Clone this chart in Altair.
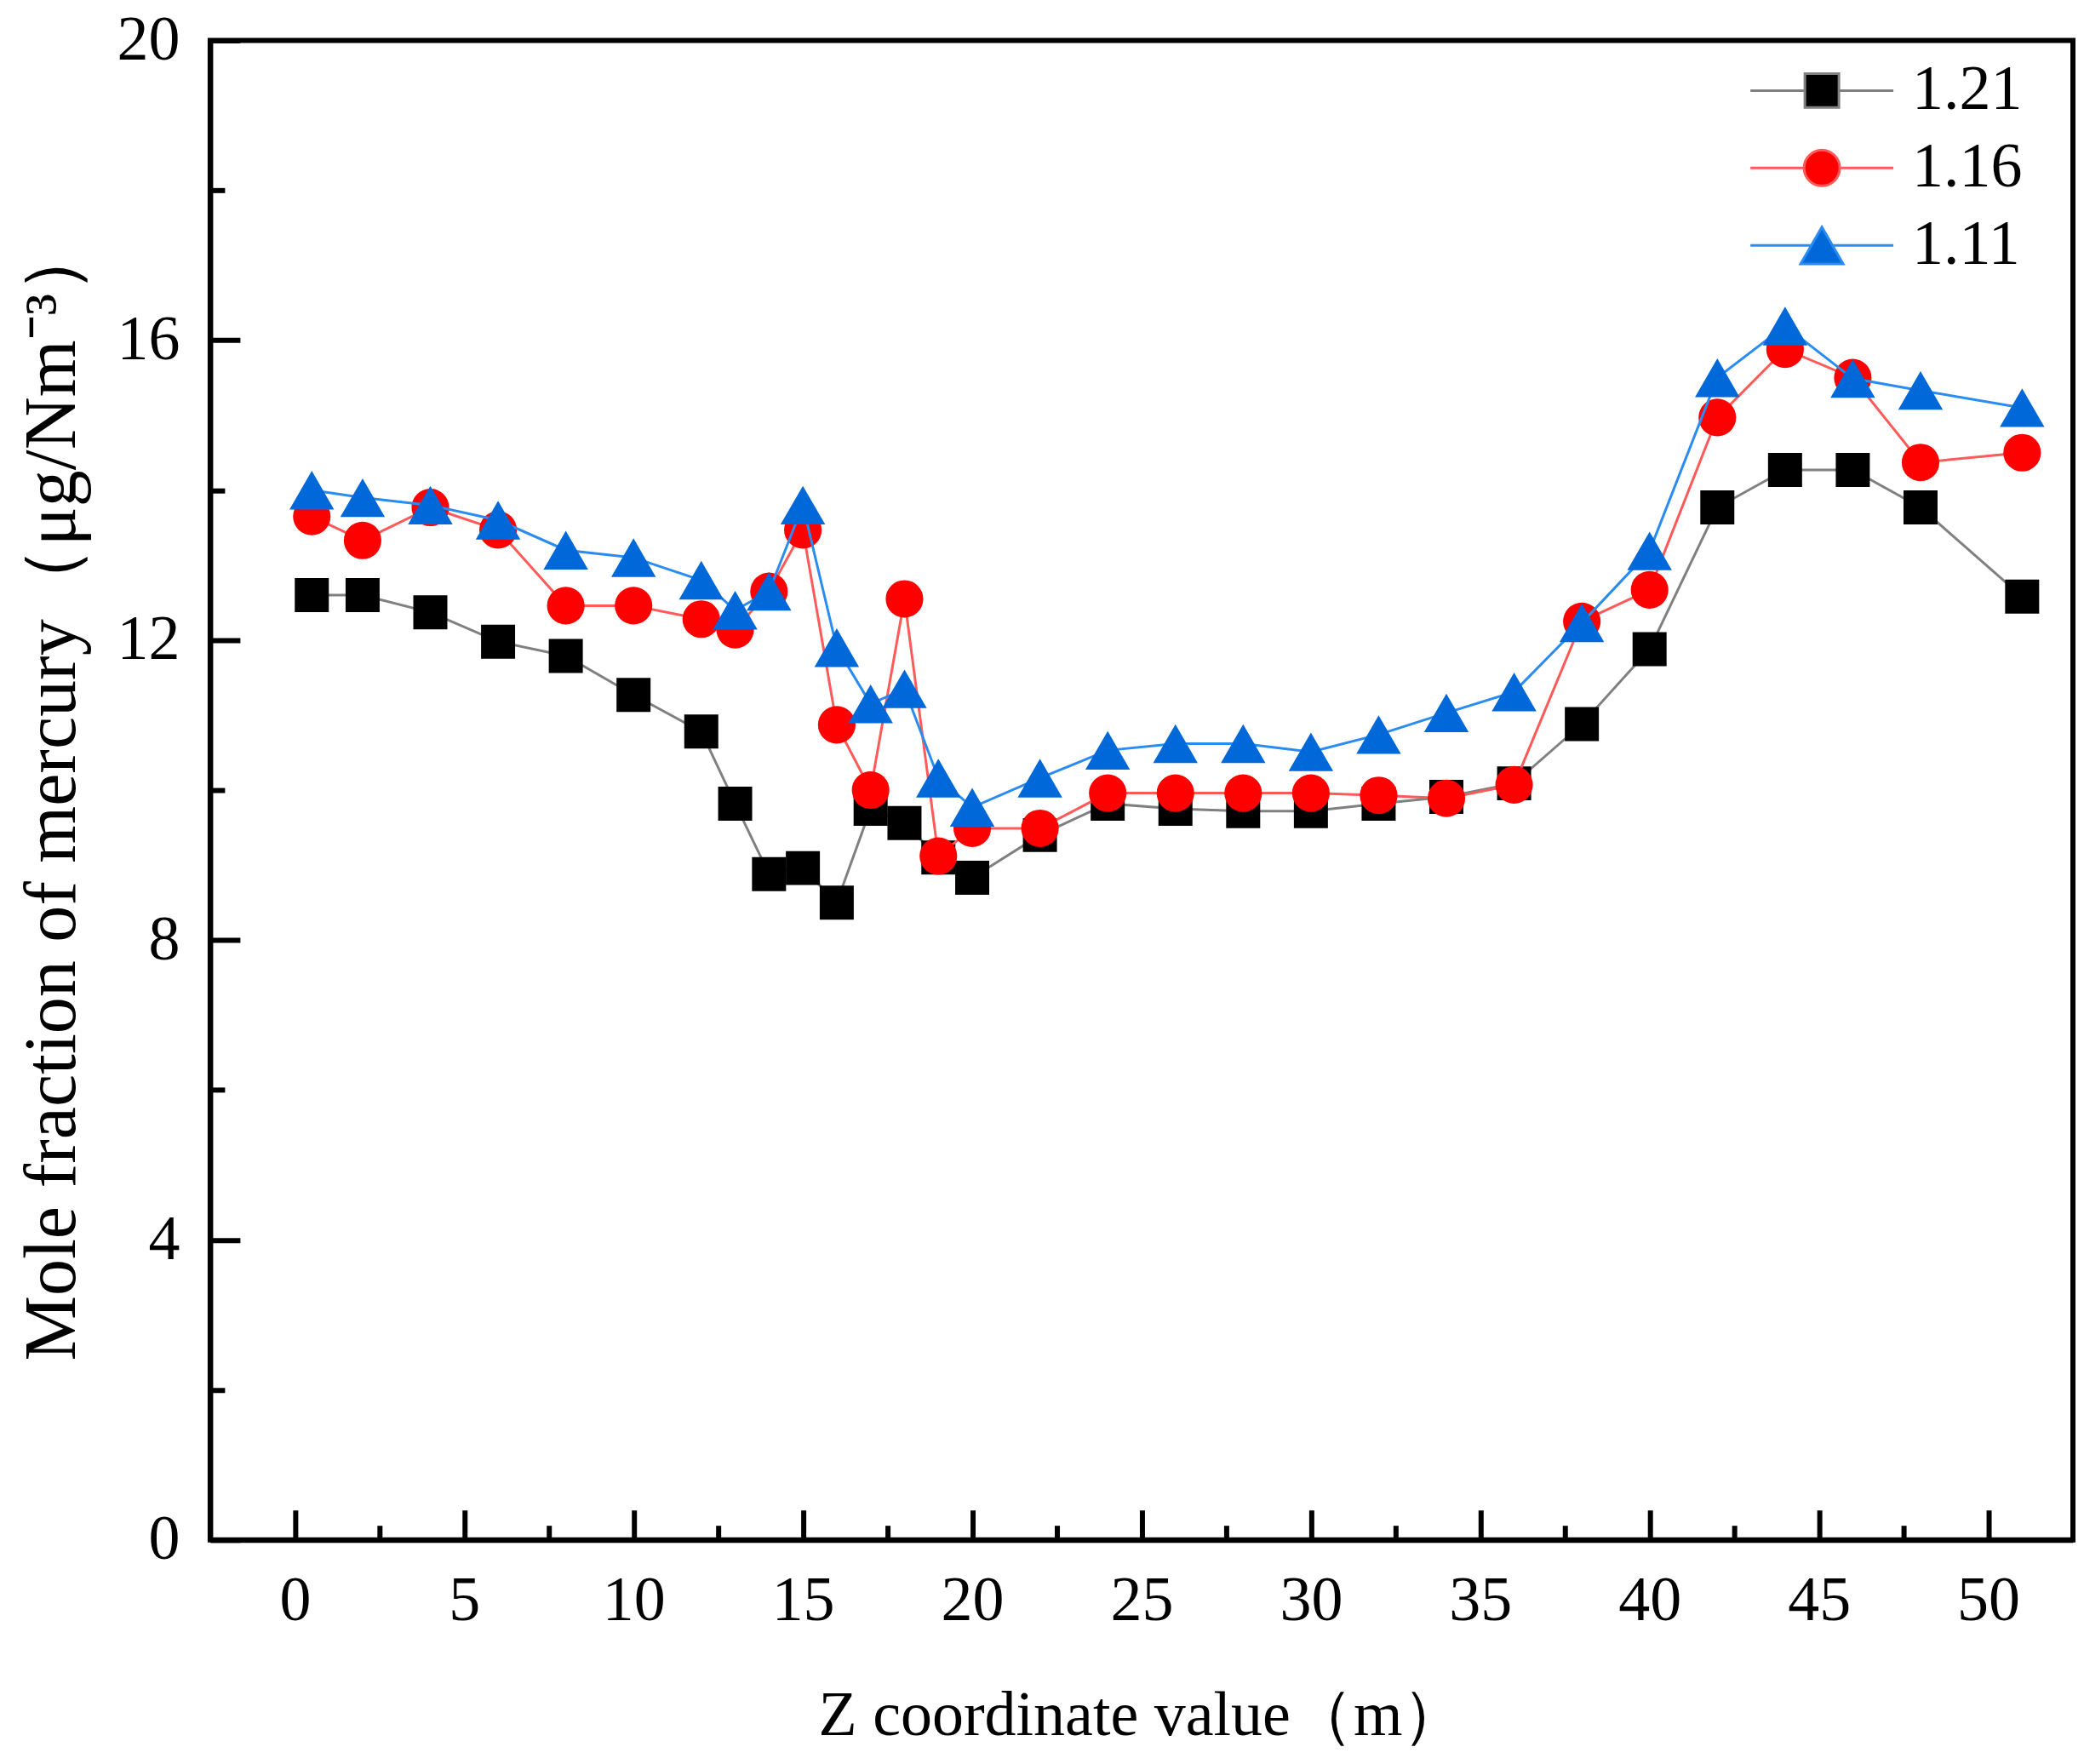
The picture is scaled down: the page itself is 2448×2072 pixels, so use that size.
import altair as alt
import pandas as pd

# ---- data ----
z = [0.5, 2, 4, 6, 8, 10, 12, 13, 14, 15, 16, 17, 18, 19, 20, 22, 24, 26, 28, 30,
     32, 34, 36, 38, 40, 42, 44, 46, 48, 51]
s121 = [12.6, 12.6, 12.37, 11.98, 11.79, 11.27, 10.78, 9.82, 8.88, 8.96, 8.5, 9.75,
        9.56, 9.1, 8.83, 9.4, 9.82, 9.75, 9.72, 9.72, 9.82, 9.91, 10.09, 10.88,
        11.88, 13.77, 14.27, 14.27, 13.77, 12.58]
s116 = [13.65, 13.33, 13.77, 13.47, 12.46, 12.46, 12.28, 12.14, 12.65, 13.47, 10.87,
        10.0, 12.55, 9.12, 9.49, 9.49, 9.96, 9.96, 9.96, 9.96, 9.93, 9.89, 10.07,
        12.25, 12.67, 14.97, 15.88, 15.5, 14.37, 14.5]
s111 = [14.0, 13.9, 13.8, 13.6, 13.2, 13.1, 12.8, 12.4, 12.65, 13.8, 11.9, 11.15,
        11.35, 10.16, 9.77, 10.16, 10.53, 10.62, 10.62, 10.51, 10.74, 11.03, 11.31,
        12.23, 13.19, 15.5, 16.19, 15.49, 15.33, 15.1]

series_names = ["1.21", "1.16", "1.11"]
marker_colors = ["#000000", "#ff0000", "#0068d9"]
line_colors = ["#808080", "#ff5a5a", "#2a8cf0"]
shapes = ["square", "circle", "triangle-up"]
marker_sizes = [1600, 1950, 2750]

x_major = [0, 5, 10, 15, 20, 25, 30, 35, 40, 45, 50]
x_minor = [2.5, 7.5, 12.5, 17.5, 22.5, 27.5, 32.5, 37.5, 42.5, 47.5]
y_major = [0, 4, 8, 12, 16, 20]
y_minor = [2, 6, 10, 14, 18]

FONT = "Liberation Serif"
W, H = 2189, 1762

xs = alt.Scale(domain=[-2.5, 52.5], nice=False, zero=False)
ys = alt.Scale(domain=[0, 20], nice=False, zero=False)

def frame(vals, name):
    return pd.DataFrame({"z": z, "v": vals, "series": name})

dfs = [frame(s121, "1.21"), frame(s116, "1.16"), frame(s111, "1.11")]

# axis variants: labels+domain, major inward ticks, minor inward ticks
x_axes = [
    alt.Axis(values=x_major, ticks=False, domain=True, domainColor="black",
             domainWidth=6, labelFont=FONT, labelFontSize=74, labelColor="black",
             labelPadding=36, grid=False, title="Z coordinate value（m）",
             titleFont=FONT, titleFontSize=74, titleFontWeight="normal",
             titleColor="black", titlePadding=62, orient="bottom"),
    alt.Axis(values=x_major, ticks=True, tickSize=35, tickWidth=6, tickColor="black",
             labels=False, domain=False, grid=False, title=None, orient="bottom",
             offset=-35),
    alt.Axis(values=x_minor, ticks=True, tickSize=17, tickWidth=6, tickColor="black",
             labels=False, domain=False, grid=False, title=None, orient="bottom",
             offset=-17),
]
y_axes = [
    alt.Axis(values=y_major, ticks=False, domain=True, domainColor="black",
             domainWidth=6, labelFont=FONT, labelFontSize=74, labelColor="black",
             labelPadding=36, grid=False,
             title="Mole fraction of mercury（μg/Nm⁻³）",
             titleFont=FONT, titleFontSize=86, titleFontWeight="normal",
             titleColor="black", titlePadding=31, orient="left"),
    alt.Axis(values=y_major, ticks=True, tickSize=35, tickWidth=6, tickColor="black",
             labels=False, domain=False, grid=False, title=None, orient="left",
             offset=-35),
    alt.Axis(values=y_minor, ticks=True, tickSize=17, tickWidth=6, tickColor="black",
             labels=False, domain=False, grid=False, title=None, orient="left",
             offset=-17),
]

layers = []
for i in range(3):
    layer = alt.Chart(dfs[i]).mark_line(
        color=line_colors[i], strokeWidth=3,
        point=alt.OverlayMarkDef(shape=shapes[i], size=marker_sizes[i], filled=True,
                                 color=marker_colors[i], opacity=1, strokeWidth=0),
    ).encode(
        x=alt.X("z:Q", scale=xs, axis=x_axes[i]),
        y=alt.Y("v:Q", scale=ys, axis=y_axes[i]),
    )
    layers.append(layer)

# legend (symbols draw a line with the marker on it)
legend_paths = [
    "M-4.2,0H-1M1,0H4.2M-1,-1H1V1H-1Z",
    "M-4.2,0H-1.05M1.05,0H4.2M-1.05,0A1.05,1.05,0,1,1,1.05,0A1.05,1.05,0,1,1,-1.05,0Z",
    "M-4.2,0H-0.6M0.6,0H4.2M0,-1.08L1.25,1.08L-1.25,1.08Z",
]
leg = alt.Legend(title=None, orient="none", legendX=1857, legendY=22,
                 labelFont=FONT, labelFontSize=74, labelColor="black",
                 labelOffset=69, symbolSize=1600, symbolStrokeWidth=3,
                 symbolOpacity=1, rowPadding=17, padding=0, labelBaseline="middle")
leg_df = pd.DataFrame({"series": series_names})
legend_layer = alt.Chart(leg_df).mark_point(filled=True, size=1600, opacity=0).encode(
    shape=alt.Shape("series:N", scale=alt.Scale(domain=series_names, range=legend_paths),
                    legend=leg, sort=series_names),
    fill=alt.Fill("series:N", scale=alt.Scale(domain=series_names, range=marker_colors),
                  legend=leg, sort=series_names),
    stroke=alt.Stroke("series:N", scale=alt.Scale(domain=series_names, range=line_colors),
                      legend=leg, sort=series_names),
)

chart = alt.layer(*layers, legend_layer).resolve_axis(
    x="independent", y="independent"
).properties(
    width=W, height=H,
    autosize=alt.AutoSizeParams(type="none"),
    padding={"left": 239, "top": 39, "right": 5, "bottom": 255},
    background="white",
).configure_view(
    stroke="black", strokeWidth=6
)

chart.save("out.html", embed_options={"renderer": "svg", "actions": False})
